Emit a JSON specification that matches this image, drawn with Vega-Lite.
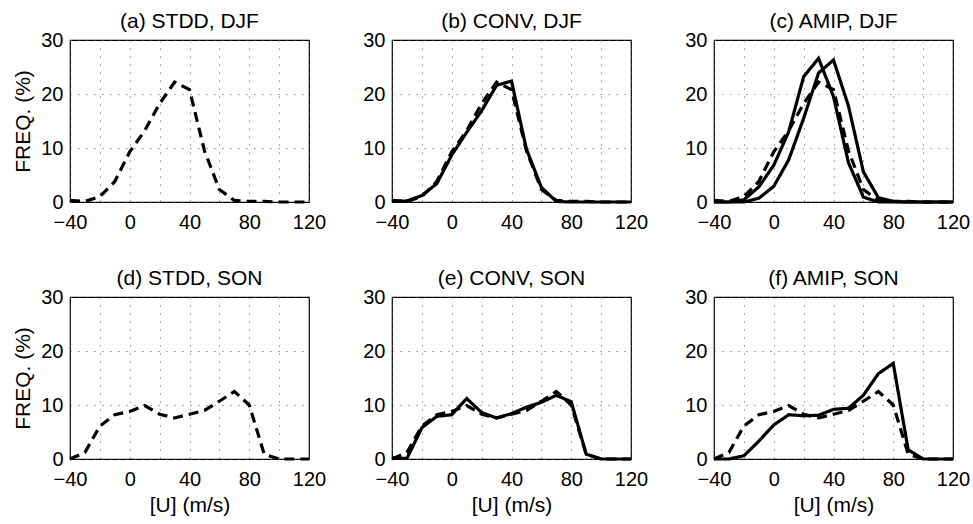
{
  "$schema": "https://vega.github.io/schema/vega-lite/v6.json",
  "padding": {"left": 12, "top": 10, "right": 4, "bottom": 4},
  "background": "white",
  "datasets": {
    "freq": [
      {"season":"DJF","src":"STDD","u":-40,"f":0.3},{"season":"DJF","src":"STDD","u":-30,"f":0.1},{"season":"DJF","src":"STDD","u":-20,"f":1.0},{"season":"DJF","src":"STDD","u":-10,"f":3.8},{"season":"DJF","src":"STDD","u":0,"f":9.3},{"season":"DJF","src":"STDD","u":10,"f":13.2},{"season":"DJF","src":"STDD","u":20,"f":18.2},{"season":"DJF","src":"STDD","u":30,"f":22.2},{"season":"DJF","src":"STDD","u":40,"f":20.8},{"season":"DJF","src":"STDD","u":50,"f":9.5},{"season":"DJF","src":"STDD","u":60,"f":2.3},{"season":"DJF","src":"STDD","u":70,"f":0.3},{"season":"DJF","src":"STDD","u":80,"f":0.1},{"season":"DJF","src":"STDD","u":90,"f":0.1},{"season":"DJF","src":"STDD","u":100,"f":0},{"season":"DJF","src":"STDD","u":110,"f":0},{"season":"DJF","src":"STDD","u":120,"f":0},
      {"season":"DJF","src":"CONV","u":-40,"f":0.1},{"season":"DJF","src":"CONV","u":-30,"f":0.2},{"season":"DJF","src":"CONV","u":-20,"f":1.2},{"season":"DJF","src":"CONV","u":-10,"f":3.4},{"season":"DJF","src":"CONV","u":0,"f":8.7},{"season":"DJF","src":"CONV","u":10,"f":12.9},{"season":"DJF","src":"CONV","u":20,"f":16.9},{"season":"DJF","src":"CONV","u":30,"f":21.6},{"season":"DJF","src":"CONV","u":40,"f":22.4},{"season":"DJF","src":"CONV","u":50,"f":9.8},{"season":"DJF","src":"CONV","u":60,"f":2.7},{"season":"DJF","src":"CONV","u":70,"f":0.1},{"season":"DJF","src":"CONV","u":80,"f":0},{"season":"DJF","src":"CONV","u":90,"f":0},{"season":"DJF","src":"CONV","u":100,"f":0},{"season":"DJF","src":"CONV","u":110,"f":0},{"season":"DJF","src":"CONV","u":120,"f":0},
      {"season":"DJF","src":"AMIP","u":-40,"f":0},{"season":"DJF","src":"AMIP","u":-30,"f":0},{"season":"DJF","src":"AMIP","u":-20,"f":0},{"season":"DJF","src":"AMIP","u":-10,"f":0.7},{"season":"DJF","src":"AMIP","u":0,"f":2.9},{"season":"DJF","src":"AMIP","u":10,"f":7.8},{"season":"DJF","src":"AMIP","u":20,"f":15.5},{"season":"DJF","src":"AMIP","u":30,"f":23.9},{"season":"DJF","src":"AMIP","u":40,"f":26.3},{"season":"DJF","src":"AMIP","u":50,"f":17.8},{"season":"DJF","src":"AMIP","u":60,"f":5.6},{"season":"DJF","src":"AMIP","u":70,"f":0.8},{"season":"DJF","src":"AMIP","u":80,"f":0.1},{"season":"DJF","src":"AMIP","u":90,"f":0},{"season":"DJF","src":"AMIP","u":100,"f":0},{"season":"DJF","src":"AMIP","u":110,"f":0},{"season":"DJF","src":"AMIP","u":120,"f":0},
      {"season":"DJF","src":"AMIP2","u":-40,"f":0},{"season":"DJF","src":"AMIP2","u":-30,"f":0},{"season":"DJF","src":"AMIP2","u":-20,"f":0.4},{"season":"DJF","src":"AMIP2","u":-10,"f":2.8},{"season":"DJF","src":"AMIP2","u":0,"f":6.8},{"season":"DJF","src":"AMIP2","u":10,"f":13.0},{"season":"DJF","src":"AMIP2","u":20,"f":23.2},{"season":"DJF","src":"AMIP2","u":30,"f":26.6},{"season":"DJF","src":"AMIP2","u":40,"f":19.5},{"season":"DJF","src":"AMIP2","u":50,"f":7.3},{"season":"DJF","src":"AMIP2","u":60,"f":0.9},{"season":"DJF","src":"AMIP2","u":70,"f":0},{"season":"DJF","src":"AMIP2","u":80,"f":0},{"season":"DJF","src":"AMIP2","u":90,"f":0},{"season":"DJF","src":"AMIP2","u":100,"f":0},{"season":"DJF","src":"AMIP2","u":110,"f":0},{"season":"DJF","src":"AMIP2","u":120,"f":0},
      {"season":"SON","src":"STDD","u":-40,"f":0},{"season":"SON","src":"STDD","u":-30,"f":1.2},{"season":"SON","src":"STDD","u":-20,"f":6.1},{"season":"SON","src":"STDD","u":-10,"f":8.2},{"season":"SON","src":"STDD","u":0,"f":8.8},{"season":"SON","src":"STDD","u":10,"f":9.9},{"season":"SON","src":"STDD","u":20,"f":8.3},{"season":"SON","src":"STDD","u":30,"f":7.6},{"season":"SON","src":"STDD","u":40,"f":8.3},{"season":"SON","src":"STDD","u":50,"f":9.0},{"season":"SON","src":"STDD","u":60,"f":10.7},{"season":"SON","src":"STDD","u":70,"f":12.5},{"season":"SON","src":"STDD","u":80,"f":10.0},{"season":"SON","src":"STDD","u":90,"f":0.9},{"season":"SON","src":"STDD","u":100,"f":0},{"season":"SON","src":"STDD","u":110,"f":0},{"season":"SON","src":"STDD","u":120,"f":0},
      {"season":"SON","src":"CONV","u":-40,"f":0.2},{"season":"SON","src":"CONV","u":-30,"f":0.1},{"season":"SON","src":"CONV","u":-20,"f":5.8},{"season":"SON","src":"CONV","u":-10,"f":7.9},{"season":"SON","src":"CONV","u":0,"f":8.2},{"season":"SON","src":"CONV","u":10,"f":11.2},{"season":"SON","src":"CONV","u":20,"f":8.6},{"season":"SON","src":"CONV","u":30,"f":7.6},{"season":"SON","src":"CONV","u":40,"f":8.4},{"season":"SON","src":"CONV","u":50,"f":9.6},{"season":"SON","src":"CONV","u":60,"f":10.5},{"season":"SON","src":"CONV","u":70,"f":11.8},{"season":"SON","src":"CONV","u":80,"f":10.6},{"season":"SON","src":"CONV","u":90,"f":0.9},{"season":"SON","src":"CONV","u":100,"f":0},{"season":"SON","src":"CONV","u":110,"f":0},{"season":"SON","src":"CONV","u":120,"f":0},
      {"season":"SON","src":"AMIP","u":-40,"f":0},{"season":"SON","src":"AMIP","u":-30,"f":0},{"season":"SON","src":"AMIP","u":-20,"f":0.6},{"season":"SON","src":"AMIP","u":-10,"f":3.3},{"season":"SON","src":"AMIP","u":0,"f":6.3},{"season":"SON","src":"AMIP","u":10,"f":8.2},{"season":"SON","src":"AMIP","u":20,"f":8.0},{"season":"SON","src":"AMIP","u":30,"f":8.1},{"season":"SON","src":"AMIP","u":40,"f":9.2},{"season":"SON","src":"AMIP","u":50,"f":9.4},{"season":"SON","src":"AMIP","u":60,"f":11.8},{"season":"SON","src":"AMIP","u":70,"f":15.8},{"season":"SON","src":"AMIP","u":80,"f":17.7},{"season":"SON","src":"AMIP","u":90,"f":1.7},{"season":"SON","src":"AMIP","u":100,"f":0},{"season":"SON","src":"AMIP","u":110,"f":0},{"season":"SON","src":"AMIP","u":120,"f":0}
    ]
  },
  "data": {"name": "freq"},
  "columns": 3,
  "spacing": {"row": 95, "column": 83},
  "bounds": "flush",
  "concat": [
    {
      "width": 239, "height": 162,
      "title": "(a) STDD, DJF",
      "transform": [{"filter": "datum.season === 'DJF' && datum.src === 'STDD'"}],
      "mark": {"type": "line", "color": "black", "strokeCap": "butt"},
      "encoding": {
        "x": {"field": "u", "type": "quantitative", "scale": {"domain": [-40, 120], "nice": false}, "axis": {"values": [-40,-20,0,20,40,60,80,100,120], "labelExpr": "datum.value % 40 === 0 ? datum.label : ''", "title": null}},
        "y": {"field": "f", "type": "quantitative", "scale": {"domain": [0, 30], "nice": false}, "axis": {"values": [0,10,20,30], "title": "FREQ. (%)"}},
        "detail": {"field": "src"},
        "strokeDash": {"field": "src", "scale": {"domain": ["STDD","CONV","AMIP","AMIP2"], "range": [[10,6],[1,0],[1,0],[1,0]]}, "legend": null},
        "strokeWidth": {"field": "src", "scale": {"domain": ["STDD","CONV","AMIP","AMIP2"], "range": [3.2,3.2,3.2,1.3]}, "legend": null}
      }
    },
    {
      "width": 239, "height": 162,
      "title": "(b) CONV, DJF",
      "transform": [{"filter": "datum.season === 'DJF' && (datum.src === 'STDD' || datum.src === 'CONV')"}],
      "mark": {"type": "line", "color": "black", "strokeCap": "butt"},
      "encoding": {
        "x": {"field": "u", "type": "quantitative", "scale": {"domain": [-40, 120], "nice": false}, "axis": {"values": [-40,-20,0,20,40,60,80,100,120], "labelExpr": "datum.value % 40 === 0 ? datum.label : ''", "title": null}},
        "y": {"field": "f", "type": "quantitative", "scale": {"domain": [0, 30], "nice": false}, "axis": {"values": [0,10,20,30], "title": null}},
        "detail": {"field": "src"},
        "strokeDash": {"field": "src", "scale": {"domain": ["STDD","CONV","AMIP","AMIP2"], "range": [[10,6],[1,0],[1,0],[1,0]]}, "legend": null},
        "strokeWidth": {"field": "src", "scale": {"domain": ["STDD","CONV","AMIP","AMIP2"], "range": [3.2,3.2,3.2,1.3]}, "legend": null}
      }
    },
    {
      "width": 239, "height": 162,
      "title": "(c) AMIP, DJF",
      "transform": [{"filter": "datum.season === 'DJF' && datum.src !== 'CONV'"}],
      "mark": {"type": "line", "color": "black", "strokeCap": "butt"},
      "encoding": {
        "x": {"field": "u", "type": "quantitative", "scale": {"domain": [-40, 120], "nice": false}, "axis": {"values": [-40,-20,0,20,40,60,80,100,120], "labelExpr": "datum.value % 40 === 0 ? datum.label : ''", "title": null}},
        "y": {"field": "f", "type": "quantitative", "scale": {"domain": [0, 30], "nice": false}, "axis": {"values": [0,10,20,30], "title": null}},
        "detail": {"field": "src"},
        "strokeDash": {"field": "src", "scale": {"domain": ["STDD","CONV","AMIP","AMIP2"], "range": [[10,6],[1,0],[1,0],[1,0]]}, "legend": null},
        "strokeWidth": {"field": "src", "scale": {"domain": ["STDD","CONV","AMIP","AMIP2"], "range": [3.2,3.2,3.2,1.3]}, "legend": null}
      }
    },
    {
      "width": 239, "height": 162,
      "title": "(d) STDD, SON",
      "transform": [{"filter": "datum.season === 'SON' && datum.src === 'STDD'"}],
      "mark": {"type": "line", "color": "black", "strokeCap": "butt"},
      "encoding": {
        "x": {"field": "u", "type": "quantitative", "scale": {"domain": [-40, 120], "nice": false}, "axis": {"values": [-40,-20,0,20,40,60,80,100,120], "labelExpr": "datum.value % 40 === 0 ? datum.label : ''", "title": "[U] (m/s)"}},
        "y": {"field": "f", "type": "quantitative", "scale": {"domain": [0, 30], "nice": false}, "axis": {"values": [0,10,20,30], "title": "FREQ. (%)"}},
        "detail": {"field": "src"},
        "strokeDash": {"field": "src", "scale": {"domain": ["STDD","CONV","AMIP","AMIP2"], "range": [[10,6],[1,0],[1,0],[1,0]]}, "legend": null},
        "strokeWidth": {"field": "src", "scale": {"domain": ["STDD","CONV","AMIP","AMIP2"], "range": [3.2,3.2,3.2,1.3]}, "legend": null}
      }
    },
    {
      "width": 239, "height": 162,
      "title": "(e) CONV, SON",
      "transform": [{"filter": "datum.season === 'SON' && (datum.src === 'STDD' || datum.src === 'CONV')"}],
      "mark": {"type": "line", "color": "black", "strokeCap": "butt"},
      "encoding": {
        "x": {"field": "u", "type": "quantitative", "scale": {"domain": [-40, 120], "nice": false}, "axis": {"values": [-40,-20,0,20,40,60,80,100,120], "labelExpr": "datum.value % 40 === 0 ? datum.label : ''", "title": "[U] (m/s)"}},
        "y": {"field": "f", "type": "quantitative", "scale": {"domain": [0, 30], "nice": false}, "axis": {"values": [0,10,20,30], "title": null}},
        "detail": {"field": "src"},
        "strokeDash": {"field": "src", "scale": {"domain": ["STDD","CONV","AMIP","AMIP2"], "range": [[10,6],[1,0],[1,0],[1,0]]}, "legend": null},
        "strokeWidth": {"field": "src", "scale": {"domain": ["STDD","CONV","AMIP","AMIP2"], "range": [3.2,3.2,3.2,1.3]}, "legend": null}
      }
    },
    {
      "width": 239, "height": 162,
      "title": "(f) AMIP, SON",
      "transform": [{"filter": "datum.season === 'SON' && (datum.src === 'STDD' || datum.src === 'AMIP')"}],
      "mark": {"type": "line", "color": "black", "strokeCap": "butt"},
      "encoding": {
        "x": {"field": "u", "type": "quantitative", "scale": {"domain": [-40, 120], "nice": false}, "axis": {"values": [-40,-20,0,20,40,60,80,100,120], "labelExpr": "datum.value % 40 === 0 ? datum.label : ''", "title": "[U] (m/s)"}},
        "y": {"field": "f", "type": "quantitative", "scale": {"domain": [0, 30], "nice": false}, "axis": {"values": [0,10,20,30], "title": null}},
        "detail": {"field": "src"},
        "strokeDash": {"field": "src", "scale": {"domain": ["STDD","CONV","AMIP","AMIP2"], "range": [[10,6],[1,0],[1,0],[1,0]]}, "legend": null},
        "strokeWidth": {"field": "src", "scale": {"domain": ["STDD","CONV","AMIP","AMIP2"], "range": [3.2,3.2,3.2,1.3]}, "legend": null}
      }
    }
  ],
  "config": {
    "font": "Liberation Sans",
    "view": {"stroke": "black", "strokeWidth": 1.2},
    "axis": {
      "domain": false, "ticks": false, "grid": true,
      "gridColor": "#555", "gridDash": [1, 7], "gridWidth": 1,
      "labelFontSize": 20, "labelColor": "black", "labelFont": "Liberation Sans",
      "labelFlush": false, "labelOverlap": false,
      "titleFontSize": 21, "titleFontWeight": "normal", "titleColor": "black", "titleFont": "Liberation Sans"
    },
    "axisX": {"labelPadding": 10, "titlePadding": 5},
    "axisY": {"labelPadding": 7, "titlePadding": 7},
    "title": {"fontSize": 21, "fontWeight": "normal", "color": "black", "font": "Liberation Sans", "anchor": "middle", "frame": "group", "offset": -2}
  }
}
